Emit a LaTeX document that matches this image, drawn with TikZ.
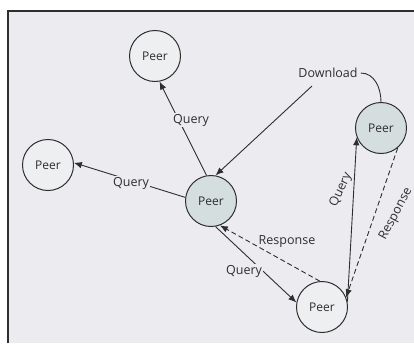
\documentclass[tikz,border=0pt]{standalone}
\usepackage{fontspec}
\setmainfont{Open Sans}
\usetikzlibrary{arrows.meta}
\definecolor{panel}{HTML}{ECECF0}
\definecolor{peerfill}{HTML}{EDEFF1}
\definecolor{hubfill}{HTML}{D5DEDF}
\definecolor{ink}{HTML}{2E2E2E}
\begin{document}
\begin{tikzpicture}[x=1pt,y=-1pt,
  peer/.style={circle, draw=ink, line width=1pt, minimum size=51pt, inner sep=0pt,
               fill=peerfill, font=\fontsize{12}{14}\selectfont, text=ink},
  hub/.style={peer, fill=hubfill},
  link/.style={draw=ink, line width=0.9pt, -{Latex[length=8pt,width=6.5pt]}},
  reply/.style={link, dash pattern=on 5pt off 3pt},
  lbl/.style={font=\fontsize{12.5}{14}\selectfont, text=ink, inner sep=1pt},
  cut/.style={lbl, fill=panel}]
  % page and panel
  \useasboundingbox (0,0) rectangle (414,343);
  \fill[white] (0,0) rectangle (414,343);
  \fill[panel] (8,11) rectangle (414,343);
  \draw[ink, line width=1.2pt] (8,343) -- (8,11) -- (414,11);

  % peers
  \node[peer] (t) at (155,56)  {Peer};
  \node[peer] (l) at (48,165)  {Peer};
  \node[hub]  (c) at (211,201) {Peer};
  \node[hub]  (r) at (381,128) {Peer};
  \node[peer] (b) at (322,307) {Peer};

  % download path
  \node[lbl] (dl) at (328,73) {Download};
  \coordinate (dlfoot) at (312,86);
  \draw[ink, line width=0.9pt] (r.north) to[out=90, in=0] ([xshift=2pt]dl.east);
  \draw[link] (dlfoot) -- (c.80);

  % queries and responses
  \draw[link]  (c.100) -- (t.-80);
  \draw[link]  (c.172) -- (l.5);
  \draw[link]  (c.-80) -- (b.170);
  \draw[reply] (b.95)  -- (c.-70);
  \draw[link]  (b.12)  -- (r.201);
  \draw[reply] (r.-50) -- (b.22);

  % edge labels
  \node[cut] (q1) at (191,120) {Query};
  \node[cut] (q2) at (131,183) {Query};
  \node[cut] (q3) at (244,271) {Query};
  \node[lbl] (r1) at (287,242) {Response};
  \node[lbl, rotate=65] (q4) at (341,190) {Query};
  \node[lbl, rotate=62] (r2) at (396,214) {Response};
\end{tikzpicture}
\end{document}
